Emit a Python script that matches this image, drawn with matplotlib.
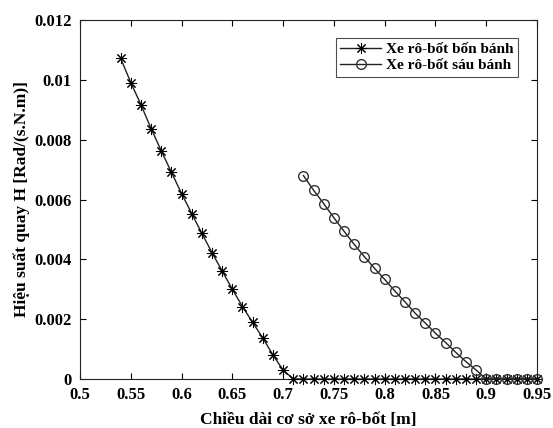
import matplotlib
matplotlib.use("Agg")
import matplotlib.pyplot as plt
import numpy as np

plt.rcParams['font.family'] = ['Liberation Serif', 'DejaVu Serif']
plt.rcParams['font.weight'] = 'bold'

x4 = [0.54, 0.55, 0.56, 0.57, 0.58, 0.59, 0.60, 0.61, 0.62, 0.63, 0.64, 0.65,
      0.66, 0.67, 0.68, 0.69, 0.70, 0.71, 0.72, 0.73, 0.74, 0.75, 0.76, 0.77,
      0.78, 0.79, 0.80, 0.81, 0.82, 0.83, 0.84, 0.85, 0.86, 0.87, 0.88, 0.89,
      0.90, 0.91, 0.92, 0.93, 0.94, 0.95]
y4 = [0.01072, 0.00991, 0.00917, 0.00837, 0.00763, 0.00691, 0.00620, 0.00553,
      0.00487, 0.00422, 0.00361, 0.00300, 0.00242, 0.00189, 0.00137, 0.00080,
      0.00030, 0, 0, 0, 0, 0, 0, 0, 0, 0, 0, 0, 0, 0, 0, 0, 0, 0, 0, 0,
      0, 0, 0, 0, 0, 0]

x6 = [0.72, 0.73, 0.74, 0.75, 0.76, 0.77, 0.78, 0.79, 0.80, 0.81, 0.82, 0.83,
      0.84, 0.85, 0.86, 0.87, 0.88, 0.89, 0.90, 0.91, 0.92, 0.93, 0.94, 0.95]
y6 = [0.00680, 0.00631, 0.00586, 0.00539, 0.00494, 0.00450, 0.00409, 0.00370,
      0.00333, 0.00294, 0.00258, 0.00220, 0.00187, 0.00153, 0.00122, 0.00089,
      0.00058, 0.00030, 0, 0, 0, 0, 0, 0]

xticks = [0.5, 0.55, 0.6, 0.65, 0.7, 0.75, 0.8, 0.85, 0.9, 0.95]
xticklabels = ['0.5', '0.55', '0.6', '0.65', '0.7', '0.75', '0.8', '0.85', '0.9', '0.95']
yticks = [0, 0.002, 0.004, 0.006, 0.008, 0.01, 0.012]
yticklabels = ['0', '0.002', '0.004', '0.006', '0.008', '0.01', '0.012']

W, H = 553, 428
fig = plt.figure(figsize=(W / 100, H / 100), dpi=100)
ax = fig.add_axes([80 / W, (H - 379) / H, (537 - 80) / W, (379 - 20) / H])

ax.plot(x4, y4, color='#222222', lw=1.0, marker=(8, 2, 0), markersize=8,
        markeredgecolor='black', markerfacecolor='black', markeredgewidth=0.75,
        label='Xe rô-bốt bốn bánh', clip_on=False, zorder=3)
ax.plot(x6, y6, color='#222222', lw=1.0, marker='o', markersize=7,
        markerfacecolor='none', markeredgecolor='#333333', markeredgewidth=1.0,
        label='Xe rô-bốt sáu bánh', clip_on=False, zorder=3)

ax.set_xlim(0.5, 0.95)
ax.set_ylim(0, 0.012)
ax.set_xticks(xticks)
ax.set_xticklabels(xticklabels)
ax.set_yticks(yticks)
ax.set_yticklabels(yticklabels)
ax.tick_params(direction='in', top=True, right=True, labelsize=12, length=4, width=0.8)
ax.tick_params(axis='x', pad=6)
ax.tick_params(axis='y', pad=6)
for s in ax.spines.values():
    s.set_linewidth(0.8)
    s.set_color('#222222')

ax.set_xlabel('Chiều dài cơ sở xe rô-bốt [m]', fontsize=12.5, fontweight='bold', labelpad=6)
ax.set_ylabel('Hiệu suất quay H [Rad/(s.N.m)]', fontsize=12.5, fontweight='bold', labelpad=3)

leg = ax.legend(loc='upper right', bbox_to_anchor=(1 - 19 / 457, 1 - 18 / 359), fontsize=11,
                frameon=True, fancybox=False, edgecolor='#222222',
                handlelength=2.7, borderpad=0.3, labelspacing=0.15,
                handletextpad=0.3, borderaxespad=0.0)
leg.get_frame().set_linewidth(0.8)
for t in leg.get_texts():
    t.set_fontweight('bold')

fig.savefig('out.png', dpi=100)
